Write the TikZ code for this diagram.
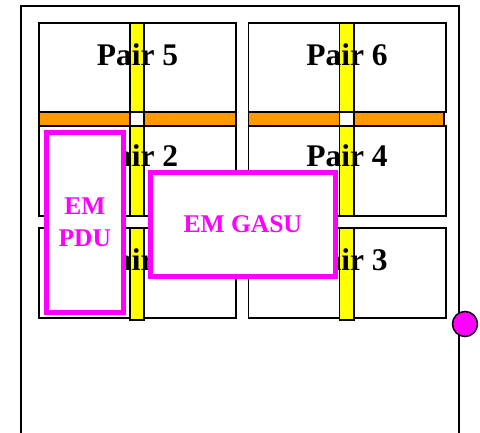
\documentclass[tikz,border=0pt]{standalone}
\usepackage{fontspec}
\setmainfont{Liberation Serif}
\definecolor{barorange}{RGB}{255,153,0}
\definecolor{baryellow}{RGB}{255,255,0}
\definecolor{emmag}{RGB}{255,0,255}
\tikzset{
  pairbox/.style={draw=black, fill=white, line width=1.5pt},
  hbar/.style={draw=black, fill=barorange, line width=1.5pt},
  vbar/.style={draw=black, fill=baryellow, line width=1.5pt},
  crossbox/.style={draw=black, fill=white, line width=1.5pt},
  pairlabel/.style={anchor=base, inner sep=0pt, font=\fontsize{31.5}{36}\selectfont\bfseries},
  embox/.style={draw=emmag, fill=white, line width=5pt},
  emlabel/.style={inner sep=0pt, align=center, text=emmag, font=\fontsize{25.5}{32}\selectfont\bfseries},
  frame/.style={draw=black, line width=2pt},
  port/.style={circle, draw=black, fill=emmag, line width=1.5pt, minimum size=25pt, inner sep=0pt}
}
\begin{document}
\begin{tikzpicture}[x=1pt,y=-1pt]
\useasboundingbox (0,0) rectangle (480,432);
\clip (0,0) rectangle (480,432);
\fill[white] (0,0) rectangle (480,432);
% outer frame
\draw[frame] (21,440) -- (21,6) -- (459,6) -- (459,440);
% pair boxes
\draw[pairbox] (39,23) rectangle (236,112);
\draw[pairbox] (39,126) rectangle (236,216);
\draw[pairbox] (39,228) rectangle (236,318);
\draw[pairbox] (248.5,23) rectangle (446,112);
\draw[pairbox] (248.5,126) rectangle (446,216);
\draw[pairbox] (248.5,228) rectangle (446,318);
% orange bars
\draw[hbar] (39,112) rectangle (236,126);
\draw[hbar] (248.5,112) rectangle (444,126);
% yellow bars
\draw[vbar] (130,23) rectangle (144,112);
\draw[vbar] (130,126) rectangle (144,216);
\draw[vbar] (130,228) rectangle (144,320);
\draw[vbar] (339.5,23) rectangle (354,112);
\draw[vbar] (339.5,126) rectangle (354,216);
\draw[vbar] (339.5,228) rectangle (354,320);
% crossings
\draw[crossbox] (130,112) rectangle (144,126);
\draw[crossbox] (339.5,112) rectangle (354,126);
% labels
\node[pairlabel] (p5) at (137.5,65) {Pair 5};
\node[pairlabel] (p6) at (347,65) {Pair 6};
\node[pairlabel] (p2) at (137.5,166.5) {Pair 2};
\node[pairlabel] (p4) at (347,166.5) {Pair 4};
\node[pairlabel] (p1) at (137.5,270) {Pair 1};
\node[pairlabel] (p3) at (347,270) {Pair 3};
% EM boxes
\draw[embox] (46,132.5) rectangle (123.5,312.5);
\node[emlabel] (pdu) at (84.8,222.5) {EM\\PDU};
\draw[embox] (150.5,172) rectangle (335,276);
\node[emlabel] (gasu) at (242.75,224.5) {EM GASU};
% port
\node[port] (port) at (465,324) {};
\end{tikzpicture}
\end{document}
